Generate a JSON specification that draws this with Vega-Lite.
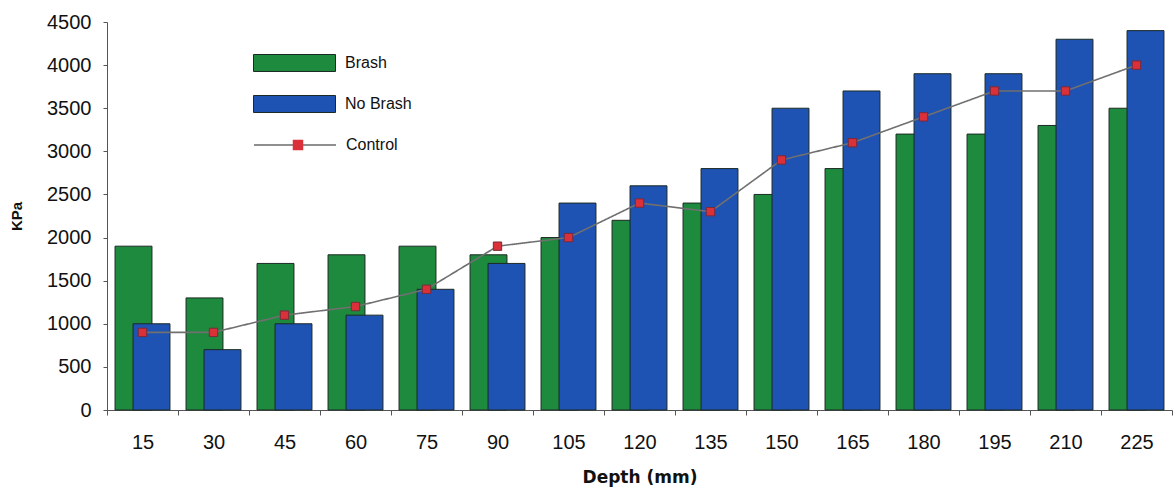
{
  "$schema": "https://vega.github.io/schema/vega-lite/v6.json",
  "autosize": "none",
  "width": 1065,
  "height": 388,
  "padding": {"left": 107, "top": 22, "right": 3, "bottom": 78},
  "background": "white",
  "config": {
    "font": "Liberation Sans",
    "view": {"stroke": null},
    "axis": {"domainColor": "#555", "tickColor": "#555", "labelColor": "#111", "titleColor": "#111", "grid": false},
    "legend": {"padding": 0, "title": null, "labelFontSize": 16, "labelColor": "#111", "labelOffset": 9}
  },
  "data": {
    "values": [
      {"depth": 15, "brash": 1900, "nobrash": 1000, "control": 900},
      {"depth": 30, "brash": 1300, "nobrash": 700, "control": 900},
      {"depth": 45, "brash": 1700, "nobrash": 1000, "control": 1100},
      {"depth": 60, "brash": 1800, "nobrash": 1100, "control": 1200},
      {"depth": 75, "brash": 1900, "nobrash": 1400, "control": 1400},
      {"depth": 90, "brash": 1800, "nobrash": 1700, "control": 1900},
      {"depth": 105, "brash": 2000, "nobrash": 2400, "control": 2000},
      {"depth": 120, "brash": 2200, "nobrash": 2600, "control": 2400},
      {"depth": 135, "brash": 2400, "nobrash": 2800, "control": 2300},
      {"depth": 150, "brash": 2500, "nobrash": 3500, "control": 2900},
      {"depth": 165, "brash": 2800, "nobrash": 3700, "control": 3100},
      {"depth": 180, "brash": 3200, "nobrash": 3900, "control": 3400},
      {"depth": 195, "brash": 3200, "nobrash": 3900, "control": 3700},
      {"depth": 210, "brash": 3300, "nobrash": 4300, "control": 3700},
      {"depth": 225, "brash": 3500, "nobrash": 4400, "control": 4000}
    ]
  },
  "encoding": {
    "x": {
      "field": "depth",
      "type": "ordinal",
      "scale": {"paddingInner": 0, "paddingOuter": 0},
      "axis": {
        "title": "Depth (mm)",
        "titleFont": "DejaVu Sans",
        "titleFontWeight": "bold",
        "titleFontSize": 17,
        "titlePadding": 17,
        "labelAngle": 0,
        "labelFontSize": 20,
        "labelPadding": 17,
        "tickBand": "extent",
        "tickSize": 5
      }
    }
  },
  "layer": [
    {
      "mark": {"type": "bar", "width": {"band": 0.52}, "xOffset": -9, "stroke": "#1c2a24", "strokeWidth": 1},
      "encoding": {
        "y": {
          "field": "brash",
          "type": "quantitative",
          "scale": {"domain": [0, 4500], "nice": false},
          "axis": {
            "title": "KPa",
            "titleFontWeight": "bold",
            "titleFontSize": 15,
            "titlePadding": 22,
            "values": [0, 500, 1000, 1500, 2000, 2500, 3000, 3500, 4000, 4500],
            "format": "d",
            "labelFontSize": 20,
            "labelPadding": 12,
            "tickSize": 4
          }
        },
        "color": {
          "datum": "Brash",
          "type": "nominal",
          "scale": {"domain": ["Brash", "No Brash"], "range": ["#1e8a3e", "#1e52b3"]},
          "legend": {
            "orient": "none",
            "legendX": 146,
            "legendY": 31,
            "symbolType": "M-1,-0.207H1V0.207H-1Z",
            "symbolSize": 6724,
            "symbolStrokeColor": "#1c2a24",
            "symbolStrokeWidth": 1,
            "clipHeight": 20,
            "rowPadding": 21
          }
        }
      }
    },
    {
      "mark": {"type": "bar", "width": {"band": 0.52}, "xOffset": 9, "stroke": "#1c2a24", "strokeWidth": 1},
      "encoding": {
        "y": {"field": "nobrash", "type": "quantitative"},
        "color": {"datum": "No Brash", "type": "nominal"}
      }
    },
    {
      "mark": {"type": "line", "color": "#707070", "strokeWidth": 1.6},
      "encoding": {
        "y": {"field": "control", "type": "quantitative"},
        "strokeDash": {
          "datum": "Control",
          "type": "nominal",
          "scale": {"range": [[1, 0]]},
          "legend": {
            "orient": "none",
            "legendX": 146,
            "legendY": 113,
            "symbolType": "stroke",
            "symbolSize": 6724,
            "symbolStrokeColor": "#6a6a6a",
            "symbolStrokeWidth": 1.5,
            "clipHeight": 20
          }
        }
      }
    },
    {
      "mark": {"type": "point", "shape": "square", "filled": true, "size": 70, "color": "#d9303a", "stroke": "#7a2a3a", "strokeWidth": 1, "opacity": 1},
      "encoding": {
        "y": {"field": "control", "type": "quantitative"},
        "shape": {
          "datum": "Control",
          "type": "nominal",
          "scale": {"range": ["square"]},
          "legend": {
            "orient": "top-left",
            "offset": 117,
            "symbolSize": 110,
            "symbolOffset": 66,
            "symbolFillColor": "#d9303a",
            "symbolStrokeColor": "#7a2a3a",
            "symbolStrokeWidth": 1,
            "labelExpr": "''",
            "labelOpacity": 0,
            "clipHeight": 12
          }
        }
      }
    }
  ]
}
